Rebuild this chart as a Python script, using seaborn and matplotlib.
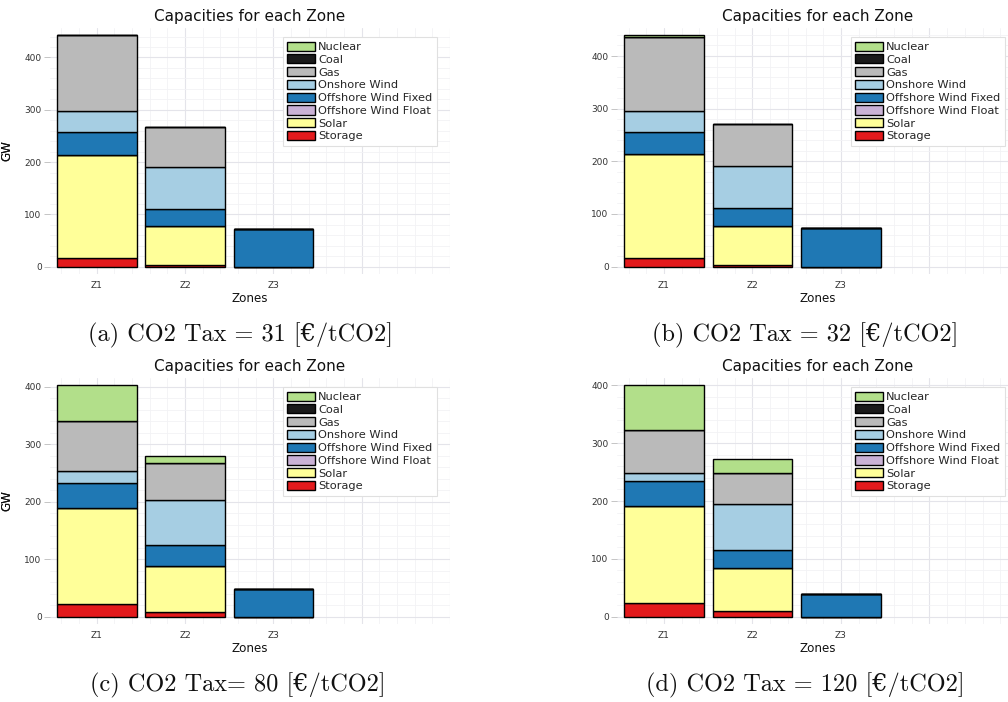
import numpy as np
import pandas as pd
import matplotlib
matplotlib.use("Agg")
import matplotlib.pyplot as plt
from matplotlib.ticker import MultipleLocator, FixedLocator
import seaborn as sns

zones = ["Z1", "Z2", "Z3"]
techs = ["Nuclear", "Coal", "Gas", "Onshore Wind", "Offshore Wind Fixed",
         "Offshore Wind Float", "Solar", "Storage"]
colors = ["#b2df8a", "#1a1a1a", "#bababa", "#a6cee3", "#1f78b4",
          "#cab2d6", "#ffff99", "#e31a1c"]

# values in GW, per zone [Z1, Z2, Z3]
tax31 = {
    "Nuclear": [0, 0, 0],
    "Coal": [0, 0, 0],
    "Gas": [145, 77.5, 0],
    "Onshore Wind": [40, 80, 0],
    "Offshore Wind Fixed": [44, 32, 72.5],
    "Offshore Wind Float": [0, 0, 0],
    "Solar": [198, 75, 0],
    "Storage": [16, 3, 0],
}
tax32 = {
    "Nuclear": [3, 0, 0],
    "Coal": [0, 0, 0],
    "Gas": [141, 78, 0],
    "Onshore Wind": [40, 81, 0],
    "Offshore Wind Fixed": [43, 33, 73],
    "Offshore Wind Float": [0, 0, 0],
    "Solar": [196, 75, 0],
    "Storage": [17, 3, 0],
}
tax80 = {
    "Nuclear": [63, 12, 0],
    "Coal": [0, 0, 0],
    "Gas": [87, 63.5, 0],
    "Onshore Wind": [20, 79.5, 0],
    "Offshore Wind Fixed": [44, 36, 48.7],
    "Offshore Wind Float": [0, 0, 0],
    "Solar": [167.5, 80.5, 0],
    "Storage": [21.5, 7.5, 0],
}
tax120 = {
    "Nuclear": [77.6, 23.6, 0],
    "Coal": [0, 0, 0],
    "Gas": [74, 53.4, 0],
    "Onshore Wind": [14, 80, 0],
    "Offshore Wind Fixed": [44, 30, 40],
    "Offshore Wind Float": [0, 0, 0],
    "Solar": [167.4, 75.8, 0],
    "Storage": [23.6, 9.2, 0],
}
scenarios = [tax31, tax32, tax80, tax120]
captions = ["(a) CO2 Tax = 31 [€/tCO2]", "(b) CO2 Tax = 32 [€/tCO2]",
            "(c) CO2 Tax= 80 [€/tCO2]", "(d) CO2 Tax = 120 [€/tCO2]"]

sns.set_theme(style="white")
plt.rcParams["font.family"] = ["DejaVu Sans"]

W, H = 1008, 702
fig = plt.figure(figsize=(W / 100, H / 100), dpi=100)

# axes boxes in pixels: left, right, top, bottom
boxes = [(50, 450, 28, 273.6), (617, 1018, 28, 273.6),
         (50, 450, 378, 623.7), (617, 1018, 378, 623.7)]
cap_pos = [(240, 335), (805, 335), (238, 685), (805, 685)]

for sc, box, cap, cp in zip(scenarios, boxes, captions, cap_pos):
    l, r, t, b = box
    ax = fig.add_axes([l / W, 1 - b / H, (r - l) / W, (b - t) / H])
    rows = []
    for tech in techs:
        for z, v in zip(zones, sc[tech]):
            rows.append({"zone": z, "tech": tech, "GW": v})
    df = pd.DataFrame(rows)
    df["x"] = df["zone"].map({z: i for i, z in enumerate(zones)})
    sns.histplot(data=df, x="x", weights="GW", hue="tech", hue_order=techs,
                 palette=colors, multiple="stack", discrete=True, shrink=0.9,
                 alpha=1, edgecolor="black", linewidth=1.0, ax=ax)
    totals = df.groupby("zone")["GW"].sum()
    m = totals.max()
    ax.set_ylim(-0.03 * m, 1.03 * m)
    ax.set_xlim(-0.53, 4.0)
    ax.xaxis.set_major_locator(FixedLocator([0, 1, 2, 3, 4]))
    ax.set_xticklabels(zones + ["", ""])
    ax.xaxis.set_minor_locator(MultipleLocator(0.2))
    ax.yaxis.set_major_locator(MultipleLocator(100))
    ax.yaxis.set_minor_locator(MultipleLocator(20))
    ax.set_axisbelow(True)
    ax.grid(which="major", color="#e4e4ea", lw=0.8)
    ax.grid(which="minor", color="#f2f2f5", lw=0.6)
    for s in ax.spines.values():
        s.set_visible(False)
    ax.tick_params(axis="x", which="both", length=0, pad=5, labelsize=6.5,
                   labelcolor="#333333")
    ax.tick_params(axis="y", which="major", length=4, width=0.6,
                   color="#bbbbbb", pad=2, labelsize=6.5, labelcolor="#333333",
                   left=True)
    ax.tick_params(axis="y", which="minor", length=0)
    ax.set_title("Capacities for each Zone", fontsize=11, pad=5, color="#111111")
    ax.set_xlabel("Zones", fontsize=8.6, labelpad=2, color="#111111")
    ax.set_ylabel("GW", fontsize=8.6, color="#111111")
    ax.yaxis.set_label_coords(-(l - 13) / (r - l), 0.5)
    sns.move_legend(ax, "upper right", bbox_to_anchor=(0.9675, 0.963),
                    title=None, frameon=True, fontsize=8.2, labelspacing=0.2,
                    handlelength=2.4, handleheight=0.85, handletextpad=0.3,
                    borderpad=0.4, borderaxespad=0, fancybox=False,
                    edgecolor="#e0e0e0", framealpha=1)
    leg = ax.get_legend()
    leg.get_frame().set_linewidth(0.8)
    fig.text(cp[0] / W, 1 - cp[1] / H, cap, ha="center", va="center",
             fontsize=17.5, family=["cmr10", "DejaVu Serif"], color="#111111")

fig.savefig("out.png", dpi=100)
